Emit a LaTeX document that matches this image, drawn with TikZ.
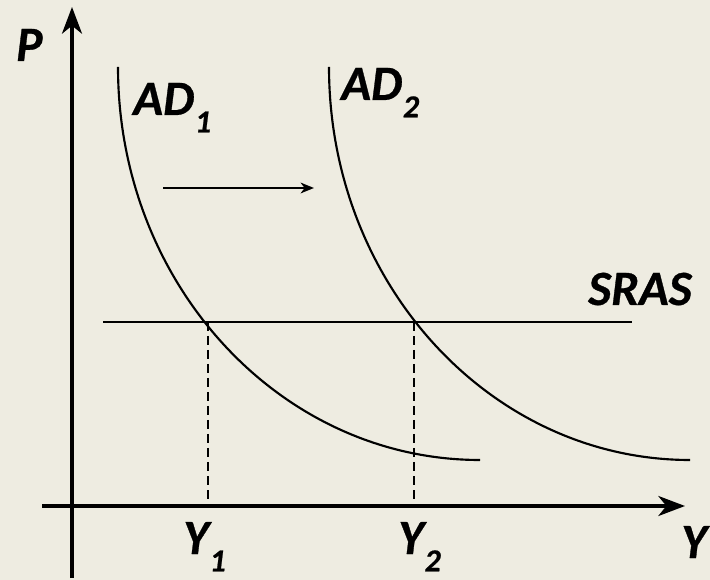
\documentclass[tikz,border=0pt]{standalone}
\usepackage{fontspec}
\setmainfont{Carlito}[BoldItalicFeatures={FakeBold=0.6}]
\usetikzlibrary{arrows.meta}
\definecolor{paper}{RGB}{238,236,225}
\newcommand{\lbl}[2]{#1\kern0.5pt\raisebox{-13pt}{\fontsize{24}{24}\selectfont #2}}
\tikzset{
  axis/.style  = {line width=2.6pt, -{Stealth[length=20pt,width=15pt,inset=6pt]}},
  curve/.style = {line width=1.6pt},
  guide/.style = {line width=1.6pt, dash pattern=on 7pt off 3.5pt},
  move/.style  = {line width=1.6pt, -{Stealth[length=10pt,width=8pt,inset=3pt]}},
  lab/.style   = {inner sep=0pt, anchor=base west,
                  font=\fontsize{37}{42}\selectfont\bfseries\itshape}
}

\begin{document}
\begin{tikzpicture}[x=0.75pt,y=-0.75pt]
  \fill[paper] (0,0) rectangle (710,580);
  \useasboundingbox (0,0) rectangle (710,580);
  % axes
  \coordinate (ybot) at (72,578);
  \coordinate (ytop) at (72,7);
  \coordinate (xlft) at (42,506);
  \coordinate (xrgt) at (685,506);
  \draw[axis] (ybot) -- (ytop);
  \draw[axis] (xlft) -- (xrgt);
  % SRAS
  \coordinate (s0) at (103,322);
  \coordinate (s1) at (632,322);
  \draw[curve] (s0) -- (s1);
  % demand curves
  \coordinate (a1) at (118,67);  \coordinate (a1e) at (480,460);
  \coordinate (a2) at (329,67);  \coordinate (a2e) at (690,460);
  \draw[curve] (a1) .. controls (118,284) and (280,460) .. (a1e);
  \draw[curve] (a2) .. controls (329,284) and (491,460) .. (a2e);
  % equilibria
  \coordinate (e1) at (208,322); \coordinate (q1) at (208,506);
  \coordinate (e2) at (414,322); \coordinate (q2) at (414,506);
  \draw[guide] (e1) -- (q1);
  \draw[guide] (e2) -- (q2);
  % shift
  \coordinate (m0) at (163,188);
  \coordinate (m1) at (314,188);
  \draw[move] (m0) -- (m1);
  % labels
  \node[lab] (p)    at (16,61)   {P};
  \node[lab] (ad1)  at (133,115) {\lbl{AD}{1}};
  \node[lab] (ad2)  at (341,100) {\lbl{AD}{2}};
  \node[lab] (sras) at (588,305) {SRAS};
  \node[lab] (y1)   at (183,554) {\lbl{Y}{1}};
  \node[lab] (y2)   at (398,554) {\lbl{Y}{2}};
  \node[lab] (y)    at (681,558) {Y};
\end{tikzpicture}
\end{document}
